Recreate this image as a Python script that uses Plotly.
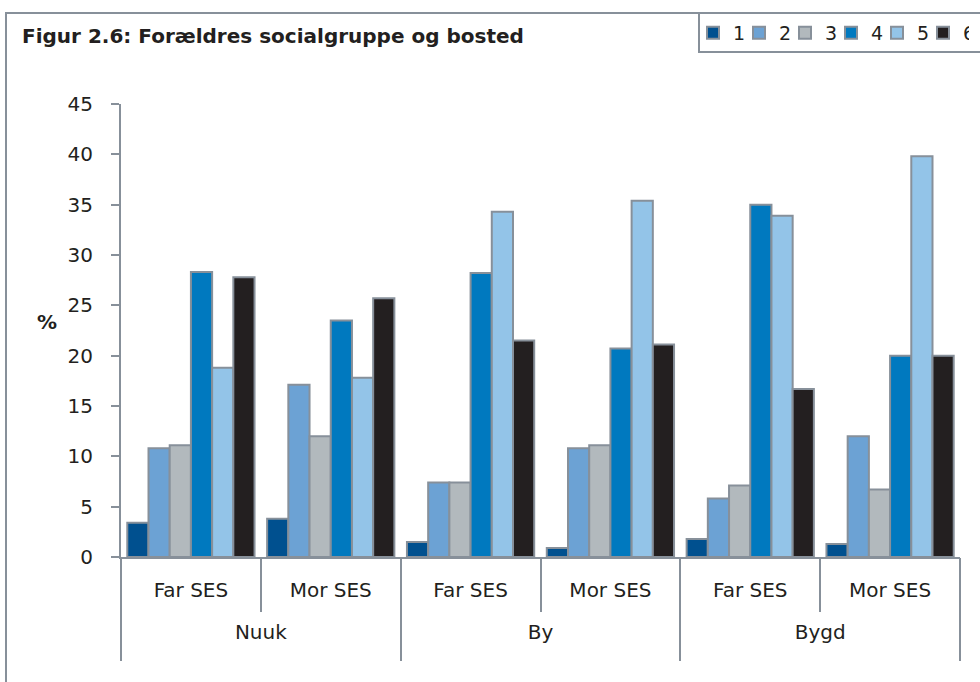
import plotly.graph_objects as go

place_names = ["Nuuk", "By", "Bygd"]
parents = ["Far SES", "Mor SES", "Far SES", "Mor SES", "Far SES", "Mor SES"]
groups = ["1", "2", "3", "4", "5", "6"]

g1 = [3.4, 3.8, 1.5, 0.9, 1.8, 1.3]
g2 = [10.8, 17.1, 7.4, 10.8, 5.8, 12.0]
g3 = [11.1, 12.0, 7.4, 11.1, 7.1, 6.7]
g4 = [28.3, 23.5, 28.2, 20.7, 35.0, 20.0]
g5 = [18.8, 17.8, 34.3, 35.4, 33.9, 39.8]
g6 = [27.8, 25.7, 21.5, 21.1, 16.7, 20.0]
series = [g1, g2, g3, g4, g5, g6]

colors = ["#00508f", "#6ca2d4", "#b2b9bd", "#0079bf", "#93c4e8", "#231f20"]
edge = "#87909a"
txt = "#231f20"
FONT = "DejaVu Sans, Verdana, sans-serif"

n_sub = len(parents)
n_grp = len(place_names)
per_grp = n_sub // n_grp
pos = list(range(n_sub))
sub_bounds = [i - 0.5 for i in range(n_sub + 1)]
grp_pos = list(range(n_grp))
grp_bounds = [i - 0.5 for i in range(n_grp + 1)]

fig = go.Figure()
for name, vals, col in zip(groups, series, colors):
    fig.add_trace(go.Bar(
        x=pos, y=vals, name=name,
        marker=dict(color=col, line=dict(color=edge, width=2)),
        hovertext=[f"{place_names[i // per_grp]} – {parents[i]}" for i in pos],
    ))
# carrier trace for the group-level axis (no visible marks)
fig.add_trace(go.Scatter(x=grp_pos, y=[None] * n_grp, xaxis="x2", mode="markers",
                         showlegend=False, hoverinfo="skip"))

W, H = 980, 682
ml, mr, mt, mb = 121, 20, 104, 125
pw, ph = W - ml - mr, H - mt - mb


def px(xp):
    return (xp - ml) / pw


def py(yp):
    return (H - mb - yp) / ph


LEG_L = 693

fig.update_layout(
    width=W, height=H,
    margin=dict(l=ml, r=mr, t=mt, b=mb),
    paper_bgcolor="white", plot_bgcolor="white",
    barmode="group", bargap=0.09, bargroupgap=0,
    font=dict(family=FONT, size=20, color=txt),
    title=dict(text="<b>Figur 2.6: Forældres socialgruppe og bosted</b>",
               x=22 / W, xref="container", xanchor="left",
               y=1 - 36 / H, yref="container", yanchor="middle",
               font=dict(size=20, color=txt)),
    legend=dict(orientation="h", xref="container", yref="container",
                x=LEG_L / W, y=1 - 14 / H, xanchor="left", yanchor="top",
                borderwidth=0, bgcolor="rgba(0,0,0,0)",
                font=dict(size=19), itemwidth=30, entrywidth=1,
                tracegroupgap=0, traceorder="normal"),
    yaxis=dict(range=[0, 45], dtick=5, showgrid=False, zeroline=False,
               showline=True, linecolor=edge, linewidth=2,
               ticks="outside", ticklen=8, tickcolor=edge, tickwidth=2,
               ticklabelstandoff=14, tickfont=dict(size=20)),
    xaxis=dict(range=[-0.5, n_sub - 0.5], showgrid=False, zeroline=False,
               showline=True, linecolor=edge, linewidth=2,
               tickmode="array", tickvals=pos, ticktext=parents, ticks="",
               ticklabelstandoff=14, tickfont=dict(size=20),
               minor=dict(tickmode="array", tickvals=sub_bounds, ticks="outside",
                          ticklen=53, tickcolor=edge, tickwidth=2, showgrid=False)),
    xaxis2=dict(overlaying="x", anchor="y", side="bottom",
                range=[-0.5, n_grp - 0.5], showgrid=False, zeroline=False,
                showline=False, tickmode="array", tickvals=grp_pos,
                ticktext=place_names, ticks="", ticklabelstandoff=61,
                tickfont=dict(size=20),
                minor=dict(tickmode="array", tickvals=grp_bounds, ticks="outside",
                           ticklen=103, tickcolor=edge, tickwidth=2, showgrid=False)),
    annotations=[dict(text="<b>%</b>", xref="paper", yref="paper",
                      x=px(35), y=py(322),
                      showarrow=False, font=dict(size=20, color=txt))],
    shapes=[
        dict(type="rect", xref="paper", yref="paper",
             x0=px(6), x1=1.3, y0=-0.6, y1=py(13),
             line=dict(color=edge, width=2), layer="below"),
        dict(type="rect", xref="paper", yref="paper",
             x0=px(LEG_L + 6), x1=1.3, y0=py(52), y1=py(13),
             line=dict(color=edge, width=2), fillcolor="white", layer="below"),
    ],
)

fig.write_html("out.html", config={"displayModeBar": False},
               post_script="document.body.style.margin='0';")
